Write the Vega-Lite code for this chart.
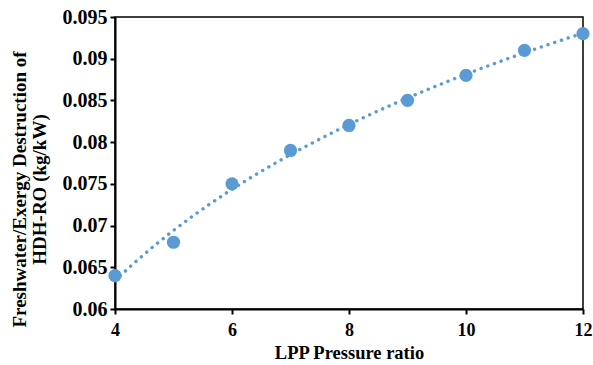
{
  "$schema": "https://vega.github.io/schema/vega-lite/v6.json",
  "width": 468,
  "height": 292,
  "autosize": {"type": "none"},
  "padding": {"left": 115, "top": 17, "right": 10, "bottom": 56},
  "background": "white",
  "config": {
    "view": {"stroke": "#000", "strokeWidth": 1.5},
    "font": "Liberation Serif",
    "axis": {
      "labelFont": "Liberation Serif",
      "titleFont": "Liberation Serif",
      "labelFontWeight": "bold",
      "titleFontWeight": "bold",
      "labelFontSize": 18,
      "titleFontSize": 18,
      "labelColor": "#000",
      "titleColor": "#000",
      "domainColor": "#000",
      "domainWidth": 2,
      "tickColor": "#000",
      "tickWidth": 2,
      "tickSize": 5,
      "grid": false
    }
  },
  "data": {
    "values": [
      {"x": 4, "y": 0.064},
      {"x": 5, "y": 0.068},
      {"x": 6, "y": 0.075},
      {"x": 7, "y": 0.079},
      {"x": 8, "y": 0.082},
      {"x": 9, "y": 0.085},
      {"x": 10, "y": 0.088},
      {"x": 11, "y": 0.091},
      {"x": 12, "y": 0.093}
    ]
  },
  "layer": [
    {
      "transform": [{"regression": "y", "on": "x", "method": "log", "extent": [4, 12]}],
      "mark": {"type": "line", "color": "#5B9BD5", "strokeWidth": 3.4, "strokeDash": [0.1, 7], "strokeCap": "round", "clip": true},
      "encoding": {
        "x": {"field": "x", "type": "quantitative"},
        "y": {"field": "y", "type": "quantitative"}
      }
    },
    {
      "mark": {"type": "circle", "color": "#5B9BD5", "opacity": 1, "size": 175, "clip": false},
      "encoding": {
        "x": {
          "field": "x",
          "type": "quantitative",
          "scale": {"domain": [4, 12], "nice": false, "zero": false},
          "axis": {
            "values": [4, 6, 8, 10, 12],
            "format": "d",
            "title": "LPP Pressure ratio",
            "titleFontSize": 18.5,
            "labelPadding": 7,
            "titlePadding": 4,
            "labelFlush": false
          }
        },
        "y": {
          "field": "y",
          "type": "quantitative",
          "scale": {"domain": [0.06, 0.095], "nice": false, "zero": false},
          "axis": {
            "values": [0.06, 0.065, 0.07, 0.075, 0.08, 0.085, 0.09, 0.095],
            "format": "~g",
            "title": ["Freshwater/Exergy Destruction of", "HDH-RO (kg/kW)"],
            "labelFontSize": 20,
            "titleFontSize": 19,
            "labelPadding": 3,
            "titlePadding": 13,
            "titleLineHeight": 20,
            "titleY": 172,
            "labelFlush": false
          }
        }
      }
    }
  ]
}
